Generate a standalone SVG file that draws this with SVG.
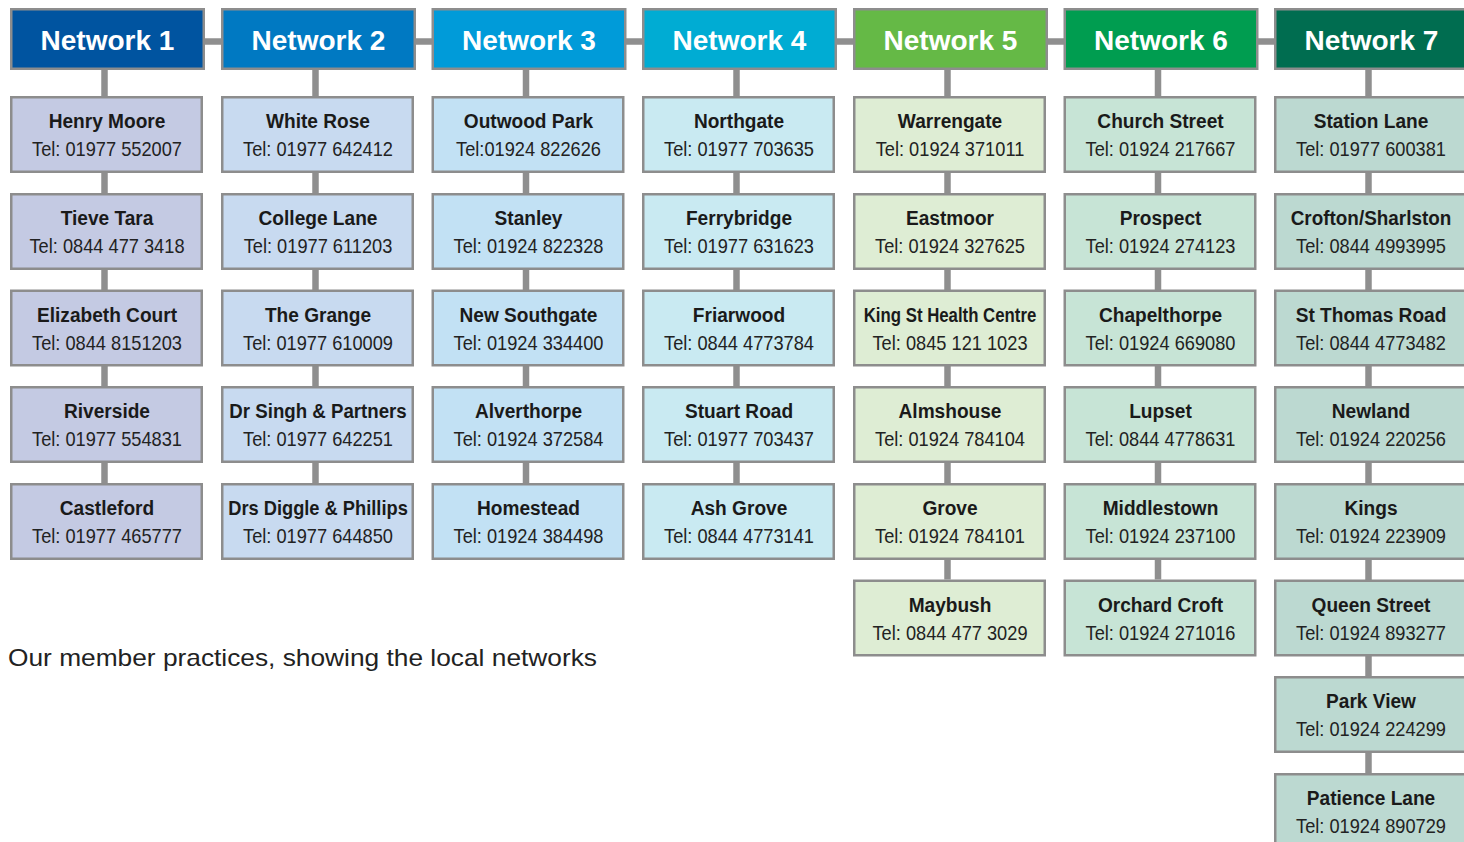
<svg xmlns="http://www.w3.org/2000/svg" width="1464" height="842" viewBox="0 0 1464 842">
<style>
.hd{stroke:#8d8d8d;stroke-width:2.5}
.bx{stroke:#8d8d8d;stroke-width:2.5}
.ht{font-family:"Liberation Sans",Arial,sans-serif;font-weight:bold;font-size:28px;fill:#fff;text-anchor:middle}
.nm{font-family:"Liberation Sans",Arial,sans-serif;font-weight:bold;font-size:21px;fill:#1a1a1a;text-anchor:middle}
.tl{font-family:"Liberation Sans",Arial,sans-serif;font-size:21px;fill:#222;text-anchor:middle}
.cap{font-family:"Liberation Sans",Arial,sans-serif;font-size:24px;fill:#222}
.cn{stroke:#8f8f8f;stroke-width:6.5;fill:none}
.c1{fill:#c4cae3}.c2{fill:#c8daf0}.c3{fill:#c2e1f4}.c4{fill:#c9eaf2}.c5{fill:#deedd4}.c6{fill:#c7e4d6}.c7{fill:#bcd9d1}
</style>
<rect width="1464" height="842" fill="#fff"/>
<g id="connectors" class="cn">
<path d="M205 41.5H1274"/>
<path d="M104.5 70V483"/>
<path d="M315.5 70V483"/>
<path d="M526 70V483"/>
<path d="M736.5 70V483"/>
<path d="M947.5 70V579.5"/>
<path d="M1158 70V579.5"/>
<path d="M1368.5 70V773"/>
</g>
<g id="network1"><rect class="hd" x="11.25" y="9.25" width="192.5" height="59.5" fill="#0054a0"/><text class="ht" x="107.5" y="50">Network 1</text></g>
<g id="network2"><rect class="hd" x="222.25" y="9.25" width="192.5" height="59.5" fill="#0079c2"/><text class="ht" x="318.5" y="50">Network 2</text></g>
<g id="network3"><rect class="hd" x="432.75" y="9.25" width="192.5" height="59.5" fill="#009bd9"/><text class="ht" x="529" y="50">Network 3</text></g>
<g id="network4"><rect class="hd" x="643.25" y="9.25" width="192.5" height="59.5" fill="#00acd3"/><text class="ht" x="739.5" y="50">Network 4</text></g>
<g id="network5"><rect class="hd" x="854.25" y="9.25" width="192.5" height="59.5" fill="#65b946"/><text class="ht" x="950.5" y="50">Network 5</text></g>
<g id="network6"><rect class="hd" x="1064.75" y="9.25" width="192.5" height="59.5" fill="#009d50"/><text class="ht" x="1161" y="50">Network 6</text></g>
<g id="network7"><rect class="hd" x="1275.25" y="9.25" width="192.5" height="59.5" fill="#006d50"/><text class="ht" x="1371.5" y="50">Network 7</text></g>

<g id="henry-moore"><rect class="bx c1" x="11.25" y="97.25" width="190.5" height="74.5"/><text class="nm" transform="translate(107 128) scale(0.91 1)">Henry Moore</text><text class="tl" transform="translate(107 156) scale(0.868 1)">Tel: 01977 552007</text></g>
<g id="tieve-tara"><rect class="bx c1" x="11.25" y="194.25" width="190.5" height="74.5"/><text class="nm" transform="translate(107 225) scale(0.91 1)">Tieve Tara</text><text class="tl" transform="translate(107 253) scale(0.868 1)">Tel: 0844 477 3418</text></g>
<g id="elizabeth-court"><rect class="bx c1" x="11.25" y="290.75" width="190.5" height="74.5"/><text class="nm" transform="translate(107 321.5) scale(0.91 1)">Elizabeth Court</text><text class="tl" transform="translate(107 349.5) scale(0.868 1)">Tel: 0844 8151203</text></g>
<g id="riverside"><rect class="bx c1" x="11.25" y="387.25" width="190.5" height="74.5"/><text class="nm" transform="translate(107 418) scale(0.91 1)">Riverside</text><text class="tl" transform="translate(107 446) scale(0.868 1)">Tel: 01977 554831</text></g>
<g id="castleford"><rect class="bx c1" x="11.25" y="484.25" width="190.5" height="74.5"/><text class="nm" transform="translate(107 515) scale(0.91 1)">Castleford</text><text class="tl" transform="translate(107 543) scale(0.868 1)">Tel: 01977 465777</text></g>

<g id="white-rose"><rect class="bx c2" x="222.25" y="97.25" width="190.5" height="74.5"/><text class="nm" transform="translate(318 128) scale(0.91 1)">White Rose</text><text class="tl" transform="translate(318 156) scale(0.868 1)">Tel: 01977 642412</text></g>
<g id="college-lane"><rect class="bx c2" x="222.25" y="194.25" width="190.5" height="74.5"/><text class="nm" transform="translate(318 225) scale(0.91 1)">College Lane</text><text class="tl" transform="translate(318 253) scale(0.868 1)">Tel: 01977 611203</text></g>
<g id="the-grange"><rect class="bx c2" x="222.25" y="290.75" width="190.5" height="74.5"/><text class="nm" transform="translate(318 321.5) scale(0.91 1)">The Grange</text><text class="tl" transform="translate(318 349.5) scale(0.868 1)">Tel: 01977 610009</text></g>
<g id="dr-singh"><rect class="bx c2" x="222.25" y="387.25" width="190.5" height="74.5"/><text class="nm" transform="translate(318 418) scale(0.89 1)">Dr Singh &amp; Partners</text><text class="tl" transform="translate(318 446) scale(0.868 1)">Tel: 01977 642251</text></g>
<g id="drs-diggle"><rect class="bx c2" x="222.25" y="484.25" width="190.5" height="74.5"/><text class="nm" transform="translate(318 515) scale(0.87 1)">Drs Diggle &amp; Phillips</text><text class="tl" transform="translate(318 543) scale(0.868 1)">Tel: 01977 644850</text></g>

<g id="outwood-park"><rect class="bx c3" x="432.75" y="97.25" width="190.5" height="74.5"/><text class="nm" transform="translate(528.5 128) scale(0.91 1)">Outwood Park</text><text class="tl" transform="translate(528.5 156) scale(0.868 1)">Tel:01924 822626</text></g>
<g id="stanley"><rect class="bx c3" x="432.75" y="194.25" width="190.5" height="74.5"/><text class="nm" transform="translate(528.5 225) scale(0.91 1)">Stanley</text><text class="tl" transform="translate(528.5 253) scale(0.868 1)">Tel: 01924 822328</text></g>
<g id="new-southgate"><rect class="bx c3" x="432.75" y="290.75" width="190.5" height="74.5"/><text class="nm" transform="translate(528.5 321.5) scale(0.91 1)">New Southgate</text><text class="tl" transform="translate(528.5 349.5) scale(0.868 1)">Tel: 01924 334400</text></g>
<g id="alverthorpe"><rect class="bx c3" x="432.75" y="387.25" width="190.5" height="74.5"/><text class="nm" transform="translate(528.5 418) scale(0.91 1)">Alverthorpe</text><text class="tl" transform="translate(528.5 446) scale(0.868 1)">Tel: 01924 372584</text></g>
<g id="homestead"><rect class="bx c3" x="432.75" y="484.25" width="190.5" height="74.5"/><text class="nm" transform="translate(528.5 515) scale(0.91 1)">Homestead</text><text class="tl" transform="translate(528.5 543) scale(0.868 1)">Tel: 01924 384498</text></g>

<g id="northgate"><rect class="bx c4" x="643.25" y="97.25" width="190.5" height="74.5"/><text class="nm" transform="translate(739 128) scale(0.91 1)">Northgate</text><text class="tl" transform="translate(739 156) scale(0.868 1)">Tel: 01977 703635</text></g>
<g id="ferrybridge"><rect class="bx c4" x="643.25" y="194.25" width="190.5" height="74.5"/><text class="nm" transform="translate(739 225) scale(0.91 1)">Ferrybridge</text><text class="tl" transform="translate(739 253) scale(0.868 1)">Tel: 01977 631623</text></g>
<g id="friarwood"><rect class="bx c4" x="643.25" y="290.75" width="190.5" height="74.5"/><text class="nm" transform="translate(739 321.5) scale(0.91 1)">Friarwood</text><text class="tl" transform="translate(739 349.5) scale(0.868 1)">Tel: 0844 4773784</text></g>
<g id="stuart-road"><rect class="bx c4" x="643.25" y="387.25" width="190.5" height="74.5"/><text class="nm" transform="translate(739 418) scale(0.91 1)">Stuart Road</text><text class="tl" transform="translate(739 446) scale(0.868 1)">Tel: 01977 703437</text></g>
<g id="ash-grove"><rect class="bx c4" x="643.25" y="484.25" width="190.5" height="74.5"/><text class="nm" transform="translate(739 515) scale(0.91 1)">Ash Grove</text><text class="tl" transform="translate(739 543) scale(0.868 1)">Tel: 0844 4773141</text></g>

<g id="warrengate"><rect class="bx c5" x="854.25" y="97.25" width="190.5" height="74.5"/><text class="nm" transform="translate(950 128) scale(0.91 1)">Warrengate</text><text class="tl" transform="translate(950 156) scale(0.868 1)">Tel: 01924 371011</text></g>
<g id="eastmoor"><rect class="bx c5" x="854.25" y="194.25" width="190.5" height="74.5"/><text class="nm" transform="translate(950 225) scale(0.91 1)">Eastmoor</text><text class="tl" transform="translate(950 253) scale(0.868 1)">Tel: 01924 327625</text></g>
<g id="king-st"><rect class="bx c5" x="854.25" y="290.75" width="190.5" height="74.5"/><text class="nm" transform="translate(950 321.5) scale(0.8 1)">King St Health Centre</text><text class="tl" transform="translate(950 349.5) scale(0.868 1)">Tel: 0845 121 1023</text></g>
<g id="almshouse"><rect class="bx c5" x="854.25" y="387.25" width="190.5" height="74.5"/><text class="nm" transform="translate(950 418) scale(0.91 1)">Almshouse</text><text class="tl" transform="translate(950 446) scale(0.868 1)">Tel: 01924 784104</text></g>
<g id="grove"><rect class="bx c5" x="854.25" y="484.25" width="190.5" height="74.5"/><text class="nm" transform="translate(950 515) scale(0.91 1)">Grove</text><text class="tl" transform="translate(950 543) scale(0.868 1)">Tel: 01924 784101</text></g>
<g id="maybush"><rect class="bx c5" x="854.25" y="580.75" width="190.5" height="74.5"/><text class="nm" transform="translate(950 611.5) scale(0.91 1)">Maybush</text><text class="tl" transform="translate(950 639.5) scale(0.868 1)">Tel: 0844 477 3029</text></g>

<g id="church-street"><rect class="bx c6" x="1064.75" y="97.25" width="190.5" height="74.5"/><text class="nm" transform="translate(1160.5 128) scale(0.91 1)">Church Street</text><text class="tl" transform="translate(1160.5 156) scale(0.868 1)">Tel: 01924 217667</text></g>
<g id="prospect"><rect class="bx c6" x="1064.75" y="194.25" width="190.5" height="74.5"/><text class="nm" transform="translate(1160.5 225) scale(0.91 1)">Prospect</text><text class="tl" transform="translate(1160.5 253) scale(0.868 1)">Tel: 01924 274123</text></g>
<g id="chapelthorpe"><rect class="bx c6" x="1064.75" y="290.75" width="190.5" height="74.5"/><text class="nm" transform="translate(1160.5 321.5) scale(0.91 1)">Chapelthorpe</text><text class="tl" transform="translate(1160.5 349.5) scale(0.868 1)">Tel: 01924 669080</text></g>
<g id="lupset"><rect class="bx c6" x="1064.75" y="387.25" width="190.5" height="74.5"/><text class="nm" transform="translate(1160.5 418) scale(0.91 1)">Lupset</text><text class="tl" transform="translate(1160.5 446) scale(0.868 1)">Tel: 0844 4778631</text></g>
<g id="middlestown"><rect class="bx c6" x="1064.75" y="484.25" width="190.5" height="74.5"/><text class="nm" transform="translate(1160.5 515) scale(0.91 1)">Middlestown</text><text class="tl" transform="translate(1160.5 543) scale(0.868 1)">Tel: 01924 237100</text></g>
<g id="orchard-croft"><rect class="bx c6" x="1064.75" y="580.75" width="190.5" height="74.5"/><text class="nm" transform="translate(1160.5 611.5) scale(0.91 1)">Orchard Croft</text><text class="tl" transform="translate(1160.5 639.5) scale(0.868 1)">Tel: 01924 271016</text></g>

<g id="station-lane"><rect class="bx c7" x="1275.25" y="97.25" width="190.5" height="74.5"/><text class="nm" transform="translate(1371 128) scale(0.91 1)">Station Lane</text><text class="tl" transform="translate(1371 156) scale(0.868 1)">Tel: 01977 600381</text></g>
<g id="crofton-sharlston"><rect class="bx c7" x="1275.25" y="194.25" width="190.5" height="74.5"/><text class="nm" transform="translate(1371 225) scale(0.9 1)">Crofton/Sharlston</text><text class="tl" transform="translate(1371 253) scale(0.868 1)">Tel: 0844 4993995</text></g>
<g id="st-thomas-road"><rect class="bx c7" x="1275.25" y="290.75" width="190.5" height="74.5"/><text class="nm" transform="translate(1371 321.5) scale(0.91 1)">St Thomas Road</text><text class="tl" transform="translate(1371 349.5) scale(0.868 1)">Tel: 0844 4773482</text></g>
<g id="newland"><rect class="bx c7" x="1275.25" y="387.25" width="190.5" height="74.5"/><text class="nm" transform="translate(1371 418) scale(0.91 1)">Newland</text><text class="tl" transform="translate(1371 446) scale(0.868 1)">Tel: 01924 220256</text></g>
<g id="kings"><rect class="bx c7" x="1275.25" y="484.25" width="190.5" height="74.5"/><text class="nm" transform="translate(1371 515) scale(0.91 1)">Kings</text><text class="tl" transform="translate(1371 543) scale(0.868 1)">Tel: 01924 223909</text></g>
<g id="queen-street"><rect class="bx c7" x="1275.25" y="580.75" width="190.5" height="74.5"/><text class="nm" transform="translate(1371 611.5) scale(0.91 1)">Queen Street</text><text class="tl" transform="translate(1371 639.5) scale(0.868 1)">Tel: 01924 893277</text></g>
<g id="park-view"><rect class="bx c7" x="1275.25" y="677.25" width="190.5" height="74.5"/><text class="nm" transform="translate(1371 708) scale(0.91 1)">Park View</text><text class="tl" transform="translate(1371 736) scale(0.868 1)">Tel: 01924 224299</text></g>
<g id="patience-lane"><rect class="bx c7" x="1275.25" y="774.25" width="190.5" height="74.5"/><text class="nm" transform="translate(1371 805) scale(0.91 1)">Patience Lane</text><text class="tl" transform="translate(1371 833) scale(0.868 1)">Tel: 01924 890729</text></g>

<text class="cap" x="8" y="666" textLength="589" lengthAdjust="spacingAndGlyphs">Our member practices, showing the local networks</text>
</svg>
